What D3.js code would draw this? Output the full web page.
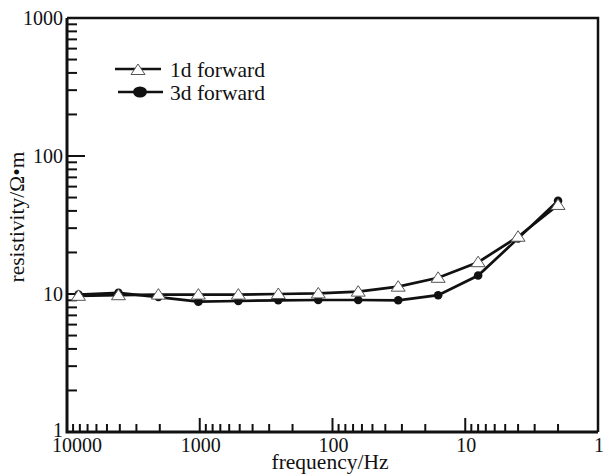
<!DOCTYPE html>
<html>
<head>
<meta charset="utf-8">
<script src="https://cdn.jsdelivr.net/npm/d3@7"></script>
<style>
  body { margin: 0; background: #fff; }
  text { font-family: "Liberation Serif", "Times New Roman", serif; fill: #111; }
</style>
</head>
<body>
<script>
// DATA
var freqs  = [8192, 4096, 2048, 1024, 512, 256, 128, 64, 32, 16, 8, 4, 2];
var oneD   = [9.7, 9.8, 9.9, 9.9, 9.9, 10.0, 10.1, 10.4, 11.3, 13.1, 17.0, 26.0, 44.2];
var threeD = [9.9, 10.2, 9.5, 8.8, 8.9, 9.0, 9.05, 9.05, 9.0, 9.8, 13.6, 25.3, 47.4];
var xTicks = [10000, 1000, 100, 10, 1];
var yTicks = [1, 10, 100, 1000];
var names  = ["1d forward", "3d forward"];

var w = 603, h = 475;
var pLeft = 67, pRight = 598, pTop = 18, pBottom = 432;

var svg = d3.select("body")
  .append("svg")
  .attr("width", w)
  .attr("height", h);

// scales
var x = d3.scaleLog().domain([10000, 1]).range([pLeft, pRight]);
var y = d3.scaleLog().domain([1, 1000]).range([pBottom, pTop]);

// minor ticks
function minors(lo, hi) {
  var m = [];
  for (var p = lo; p < hi; p *= 10) {
    for (var k = 2; k <= 9; k++) m.push(p * k);
  }
  return m;
}

// frame (top + right)
svg.append("path")
  .attr("d", "M" + pLeft + "," + pTop + "H" + pRight + "V" + pBottom)
  .attr("fill", "none")
  .attr("stroke", "#111")
  .attr("stroke-width", 2.5);

// x axis ticks (inward, upward)
var gx = svg.append("g");
gx.selectAll("line.major")
  .data(xTicks)
  .enter()
  .append("line")
  .attr("x1", function(d) { return x(d); })
  .attr("x2", function(d) { return x(d); })
  .attr("y1", pBottom)
  .attr("y2", pBottom - 14)
  .attr("stroke", "#111")
  .attr("stroke-width", 2);
gx.selectAll("line.minor")
  .data(minors(1, 10000))
  .enter()
  .append("line")
  .attr("x1", function(d) { return x(d); })
  .attr("x2", function(d) { return x(d); })
  .attr("y1", pBottom)
  .attr("y2", pBottom - 8)
  .attr("stroke", "#111")
  .attr("stroke-width", 2);
gx.selectAll("text")
  .data(xTicks)
  .enter()
  .append("text")
  .attr("x", function(d, i) { return x(d) + (i == 0 ? 10 : 1); })
  .attr("y", pBottom + 20)
  .attr("text-anchor", "middle")
  .attr("font-size", "20px")
  .text(function(d) { return d; });

// y axis ticks (inward, rightward)
var gy = svg.append("g");
gy.selectAll("line.major")
  .data(yTicks)
  .enter()
  .append("line")
  .attr("x1", pLeft)
  .attr("x2", pLeft + 18)
  .attr("y1", function(d) { return y(d); })
  .attr("y2", function(d) { return y(d); })
  .attr("stroke", "#111")
  .attr("stroke-width", 2);
gy.selectAll("line.minor")
  .data(minors(1, 1000))
  .enter()
  .append("line")
  .attr("x1", pLeft)
  .attr("x2", pLeft + 10)
  .attr("y1", function(d) { return y(d); })
  .attr("y2", function(d) { return y(d); })
  .attr("stroke", "#111")
  .attr("stroke-width", 2);
gy.selectAll("text")
  .data(yTicks)
  .enter()
  .append("text")
  .attr("x", pLeft - 4)
  .attr("y", function(d, i) { return y(d) - (i == 0 ? 2 : 0); })
  .attr("dy", "0.35em")
  .attr("text-anchor", "end")
  .attr("font-size", "20px")
  .text(function(d) { return d; });

// axis lines
svg.append("path")
  .attr("d", "M" + pLeft + "," + pTop + "V" + pBottom + "H" + pRight)
  .attr("fill", "none")
  .attr("stroke", "#111")
  .attr("stroke-width", 3);

// axis titles
svg.append("text")
  .attr("x", 330)
  .attr("y", 469)
  .attr("text-anchor", "middle")
  .attr("font-size", "21.5px")
  .text("frequency/Hz");
svg.append("text")
  .attr("transform", "translate(24,217) rotate(-90)")
  .attr("text-anchor", "middle")
  .attr("font-size", "21.5px")
  .text("resistivity/\u03A9\u2022m");

// series
var line = d3.line()
  .x(function(d) { return x(d[0]); })
  .y(function(d) { return y(d[1]); });

var s1 = freqs.map(function(f, i) { return [f, oneD[i]]; });
var s3 = freqs.map(function(f, i) { return [f, threeD[i]]; });

svg.append("path")
  .datum(s1)
  .attr("d", line)
  .attr("fill", "none")
  .attr("stroke", "#111")
  .attr("stroke-width", 2.7);
svg.append("path")
  .datum(s3)
  .attr("d", line)
  .attr("fill", "none")
  .attr("stroke", "#111")
  .attr("stroke-width", 2.7);

var tri = "M0,-6L7,4.5L-7,4.5Z";

svg.selectAll("circle.p3")
  .data(s3)
  .enter()
  .append("circle")
  .attr("cx", function(d) { return x(d[0]); })
  .attr("cy", function(d) { return y(d[1]); })
  .attr("r", 4.3)
  .attr("fill", "#111");

svg.selectAll("path.p1")
  .data(s1)
  .enter()
  .append("path")
  .attr("d", tri)
  .attr("transform", function(d) { return "translate(" + x(d[0]) + "," + y(d[1]) + ")"; })
  .attr("fill", "#fff")
  .attr("stroke", "#555")
  .attr("stroke-width", 1);

// legend
var lg = svg.append("g");
lg.append("line")
  .attr("x1", 115).attr("x2", 161)
  .attr("y1", 69).attr("y2", 69)
  .attr("stroke", "#111").attr("stroke-width", 2.7);
lg.append("path")
  .attr("d", tri)
  .attr("transform", "translate(138,70)")
  .attr("fill", "#fff")
  .attr("stroke", "#555")
  .attr("stroke-width", 1);
lg.append("line")
  .attr("x1", 118).attr("x2", 163)
  .attr("y1", 92).attr("y2", 92)
  .attr("stroke", "#111").attr("stroke-width", 2.7);
lg.append("ellipse")
  .attr("cx", 140).attr("cy", 92)
  .attr("rx", 7).attr("ry", 5.5)
  .attr("fill", "#111");
lg.selectAll("text")
  .data(names)
  .enter()
  .append("text")
  .attr("x", 170)
  .attr("y", function(d, i) { return 69 + i * 23; })
  .attr("dy", "0.35em")
  .attr("font-size", "21.5px")
  .text(function(d) { return d; });
</script>
</body>
</html>
